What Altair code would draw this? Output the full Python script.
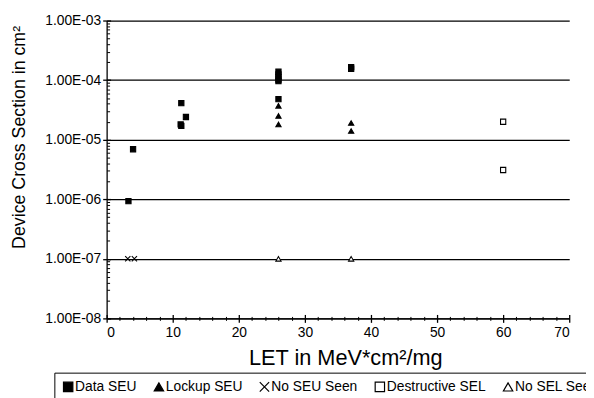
import altair as alt
import pandas as pd

FONT = "Liberation Sans"

series_names = ["Data SEU", "Lockup SEU", "No SEU Seen", "Destructive SEL", "No SEL Seen"]
series_shapes = ["square", "triangle-up", "M-1,-1L1,1M-1,1L1,-1", "square", "triangle-up"]
series_fills = ["black", "black", "black", "white", "white"]
series_strokes = ["black", "black", "black", "black", "black"]

data_seu_let = [3.3, 4.0, 11.3, 11.2, 11.3, 12.0, 26, 26, 26, 26, 26, 26, 37, 37]
data_seu_xs = [9.3e-7, 6.9e-6, 4.1e-5, 1.8e-5, 1.7e-5, 2.4e-5, 1.38e-4, 1.25e-4,
               1.12e-4, 1.02e-4, 9.6e-5, 4.8e-5, 1.65e-4, 1.55e-4]
lockup_let = [26, 26, 26, 37, 37]
lockup_xs = [3.7e-5, 2.5e-5, 1.8e-5, 1.9e-5, 1.4e-5]
noseu_let = [3.2, 4.2]
noseu_xs = [1e-7, 1e-7]
dsel_let = [60, 60]
dsel_xs = [2.0e-5, 3.1e-6]
nosel_let = [26, 37]
nosel_xs = [1e-7, 1e-7]

x_major = [0, 10, 20, 30, 40, 50, 60, 70]
x_minor = [v for v in range(0, 71, 2) if v % 10 != 0]
y_major = [1e-8, 1e-7, 1e-6, 1e-5, 1e-4, 1e-3]
y_minor = [m * d for d in [1e-8, 1e-7, 1e-6, 1e-5, 1e-4] for m in range(2, 10)]

rows = []
for name, lets, xss in [
    ("Data SEU", data_seu_let, data_seu_xs),
    ("Lockup SEU", lockup_let, lockup_xs),
    ("No SEU Seen", noseu_let, noseu_xs),
    ("Destructive SEL", dsel_let, dsel_xs),
    ("No SEL Seen", nosel_let, nosel_xs),
]:
    for l, s in zip(lets, xss):
        rows.append({"series": name, "let": l, "xs": s})
df = pd.DataFrame(rows)

xscale = alt.Scale(domain=[0, 70], nice=False, zero=False)
yscale = alt.Scale(type="log", domain=[1e-8, 1e-3], nice=False)

legend = alt.Legend(
    title=None, orient="none", legendX=-53, legendY=357, direction="horizontal",
    strokeColor="black", padding=7, symbolSize=90, symbolStrokeColor="black",
    symbolStrokeWidth=1.2, labelFont=FONT, labelFontSize=14, labelColor="black",
    labelOffset=0, columnPadding=14, labelLimit=300,
)

points = alt.Chart(df).mark_point(filled=True, size=28, strokeWidth=1.1, opacity=1).encode(
    x=alt.X("let:Q", scale=xscale, axis=alt.Axis(
        orient="bottom", values=x_major, ticks=False, tickSize=0, domain=True,
        domainColor="black", domainWidth=1.3, grid=False, labelFont=FONT,
        labelFontSize=14, labelColor="black", labelPadding=7,
        title="LET in MeV*cm²/mg", titleFont=FONT, titleFontSize=22,
        titleFontWeight="normal", titleColor="black", titleX=242, titleY=47,
        titleBaseline="alphabetic", titleAlign="center")),
    y=alt.Y("xs:Q", scale=yscale, axis=alt.Axis(
        orient="left", values=y_major,
        labelExpr="replace(upper(format(datum.value, '.2e')), 'E-', 'E-0')",
        ticks=False, tickSize=0, domain=True, domainColor="black", domainWidth=1.3,
        grid=True, gridColor="black", gridWidth=1.3, labelFont=FONT,
        labelFontSize=14, labelColor="black", labelPadding=6,
        title="Device Cross Section in cm²", titleFont=FONT, titleFontSize=18,
        titleFontWeight="normal", titleColor="black", titleX=-88, titleY=118,
        titleAngle=270, titleAlign="center", titleBaseline="middle")),
    shape=alt.Shape("series:N", scale=alt.Scale(domain=series_names, range=series_shapes), legend=legend),
    fill=alt.Fill("series:N", scale=alt.Scale(domain=series_names, range=series_fills), legend=legend),
    stroke=alt.Stroke("series:N", scale=alt.Scale(domain=series_names, range=series_strokes), legend=legend),
)

major_ticks = alt.Chart(df).mark_point(opacity=0).encode(
    x=alt.X("let:Q", scale=xscale, axis=alt.Axis(
        orient="bottom", values=x_major, labels=False, domain=False, grid=False,
        ticks=True, tickSize=8, tickColor="black", tickWidth=1.3, offset=-4, title="")),
    y=alt.Y("xs:Q", scale=yscale, axis=alt.Axis(
        orient="left", values=y_major, labels=False, domain=False, grid=False,
        ticks=True, tickSize=8, tickColor="black", tickWidth=1.3, offset=-4, title="")),
)

minor_ticks = alt.Chart(df).mark_point(opacity=0).encode(
    x=alt.X("let:Q", scale=xscale, axis=alt.Axis(
        orient="bottom", values=x_minor, labels=False, domain=False, grid=False,
        ticks=True, tickSize=4, tickColor="black", tickWidth=1, offset=-2, title="")),
    y=alt.Y("xs:Q", scale=yscale, axis=alt.Axis(
        orient="left", values=y_minor, labels=False, domain=False, grid=False,
        ticks=True, tickSize=3, tickColor="black", tickWidth=1, offset=-3, title="")),
)

chart = alt.layer(points, major_ticks, minor_ticks).resolve_axis(
    x="independent", y="independent"
).properties(
    width=469, height=302,
    autosize=alt.AutoSizeParams(type="none"),
    padding={"left": 100, "top": 10, "right": 17, "bottom": 78},
).configure_view(strokeWidth=0)

chart.save("out.html", embed_options={"renderer": "svg", "actions": False})
